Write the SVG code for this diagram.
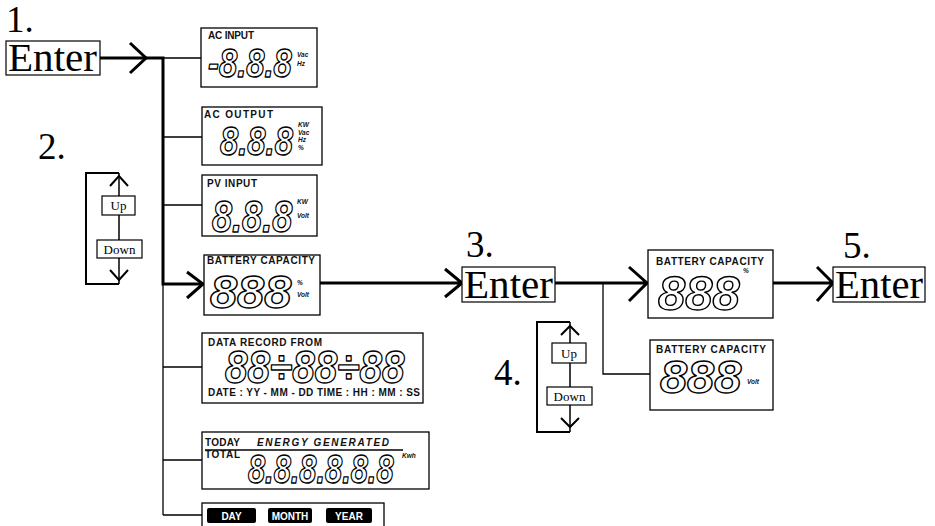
<svg xmlns="http://www.w3.org/2000/svg" width="935" height="526" viewBox="0 0 935 526">
<style>
.bg{fill:#fff}
.lcd{fill:#fff;stroke:#000;stroke-width:1.3}
.box{fill:#fff;stroke:#000;stroke-width:1.2}
.lbl{font-family:"Liberation Sans",Arial,sans-serif;font-weight:bold;font-size:10px;fill:#111}
.lbli{font-family:"Liberation Sans",Arial,sans-serif;font-weight:bold;font-style:italic;font-size:10px;fill:#111}
.unit{font-family:"Liberation Sans",Arial,sans-serif;font-weight:bold;font-style:italic;font-size:6.5px;fill:#111}
.dig{font-family:"Liberation Sans",Arial,sans-serif;font-weight:bold;font-style:italic;fill:#fff;stroke:#000;stroke-width:1.4;stroke-linejoin:round}
.step{font-family:"Liberation Serif","DejaVu Serif","Times New Roman",serif;font-size:37px;fill:#000}
.ent{font-family:"Liberation Serif","DejaVu Serif","Times New Roman",serif;font-size:39px;fill:#000}
.btn{font-family:"Liberation Serif","DejaVu Serif","Times New Roman",serif;font-size:13px;fill:#000}
.pill{fill:#000}
.pt{font-family:"Liberation Sans",Arial,sans-serif;font-weight:bold;font-size:10px;fill:#fff}
.thick{fill:none;stroke:#000;stroke-width:3}
.thin{fill:none;stroke:#000;stroke-width:1.3}
.loop{fill:none;stroke:#000;stroke-width:2}
.mid{fill:none;stroke:#000;stroke-width:1.5}
</style>
<rect class="bg" x="0" y="0" width="935" height="526"/>

<g id="connectors">
  <path class="thick" d="M100,58 H163 M163,56.5 V285.5 M163,284 H203"/>
  <path class="thick" d="M130,43 L146,58 L130,73"/>
  <path class="thick" d="M187,272 L203,284 L187,298"/>
  <path class="thin" d="M163,284 V515 M163,58 H201 M163,137 H202 M163,205 H202 M163,367 H202 M163,460 H202 M163,515 H202"/>
  <path class="thick" d="M320,283 H462 M445,269 L462,283 L445,297"/>
  <path class="thick" d="M555,283 H647 M629,267 L647,283 L629,301"/>
  <path class="thin" d="M603,283 V374 H650"/>
  <path class="thick" d="M773,283 H832 M817,267 L833,283 L817,301"/>
</g>

<g id="step1">
  <text class="step" x="6" y="32">1.</text>
</g>
<g id="enter1">
  <rect class="box" x="6" y="41" width="94" height="34"/>
  <text class="ent" x="8" y="71" textLength="89" lengthAdjust="spacingAndGlyphs">Enter</text>
</g>

<g id="step2">
  <text class="step" x="38" y="159">2.</text>
</g>
<g id="updown1">
  <path class="loop" d="M119,173 H86 V284 H119"/>
  <path class="mid" d="M119,173 V284"/>
  <path class="loop" d="M110,186 L119,176 L128,186 M110,270 L119,280 L128,270"/>
  <rect class="box" x="102" y="196" width="33" height="19"/>
  <text class="btn" x="118.5" y="210" text-anchor="middle">Up</text>
  <rect class="box" x="97" y="240" width="45" height="18"/>
  <text class="btn" x="119.5" y="253.5" text-anchor="middle">Down</text>
</g>

<g id="ac-input">
  <rect class="lcd" x="201" y="28" width="116" height="59"/>
  <text class="lbl" x="208" y="39" textLength="46">AC INPUT</text>
  <text class="dig" transform="translate(208,77) scale(0.82,1)" font-size="40">-8.8.8</text>
  <text class="unit" x="297" y="57">Vac</text>
  <text class="unit" x="297" y="66">Hz</text>
</g>

<g id="ac-output">
  <rect class="lcd" x="202" y="107" width="120" height="58"/>
  <text class="lbl" x="204" y="118" textLength="69">AC OUTPUT</text>
  <text class="dig" transform="translate(220,155) scale(0.82,1)" font-size="40">8.8.8</text>
  <text class="unit" x="298" y="127">KW</text>
  <text class="unit" x="298" y="134.5">Vac</text>
  <text class="unit" x="298" y="142">Hz</text>
  <text class="unit" x="298" y="149.5">%</text>
</g>

<g id="pv-input">
  <rect class="lcd" x="202" y="175" width="115" height="61"/>
  <text class="lbl" x="207" y="187" textLength="50">PV INPUT</text>
  <text class="dig" transform="translate(212,232) scale(0.82,1)" font-size="44">8.8.8</text>
  <text class="unit" x="297" y="204" font-size="7.5">KW</text>
  <text class="unit" x="297" y="218" font-size="7.5">Volt</text>
</g>

<g id="battery-capacity">
  <rect class="lcd" x="204" y="255" width="116" height="60"/>
  <text class="lbl" x="207" y="264" textLength="108">BATTERY  CAPACITY</text>
  <text class="dig" transform="translate(210,308) scale(1.06,1)" font-size="46">888</text>
  <text class="unit" x="297" y="285" font-size="10">%</text>
  <text class="unit" x="297" y="297" font-size="8">Volt</text>
</g>

<g id="data-record">
  <rect class="lcd" x="202" y="333" width="221" height="70"/>
  <text class="lbl" x="208" y="346" textLength="114">DATA RECORD FROM</text>
  <text class="dig" transform="translate(225,383) scale(0.88,1)" font-size="46">88÷88÷88</text>
  <text class="lbl" x="208" y="396" font-size="9.5" textLength="212">DATE : YY - MM - DD TIME : HH : MM : SS</text>
</g>

<g id="energy">
  <rect class="lcd" x="202" y="432" width="227" height="57"/>
  <text class="lbl" x="205" y="446" textLength="35">TODAY</text>
  <text class="lbli" x="257" y="446" textLength="132">ENERGY GENERATED</text>
  <path class="thin" d="M205,450 H403"/>
  <text class="lbl" x="205" y="458" font-size="9" textLength="35">TOTAL</text>
  <text class="dig" transform="translate(248,483) scale(0.77,1)" font-size="40">8.8.8.8.8.8</text>
  <text class="unit" x="402" y="458" font-size="7.5">Kwh</text>
</g>

<g id="period">
  <rect class="lcd" x="202" y="503" width="182" height="30"/>
  <rect class="pill" x="207" y="508" width="49" height="15" rx="2"/>
  <text class="pt" x="231.5" y="519.5" text-anchor="middle">DAY</text>
  <rect class="pill" x="268" y="508" width="44" height="15" rx="2"/>
  <text class="pt" x="290" y="519.5" text-anchor="middle">MONTH</text>
  <rect class="pill" x="326" y="508" width="46" height="15" rx="2"/>
  <text class="pt" x="349" y="519.5" text-anchor="middle">YEAR</text>
</g>

<g id="step3">
  <text class="step" x="466" y="257">3.</text>
</g>
<g id="enter3">
  <rect class="box" x="462" y="267" width="93" height="35"/>
  <text class="ent" x="464" y="297.5" textLength="89" lengthAdjust="spacingAndGlyphs">Enter</text>
</g>

<g id="step4">
  <text class="step" x="494" y="385">4.</text>
</g>
<g id="updown2">
  <path class="loop" d="M570,322 H537 V432 H570"/>
  <path class="mid" d="M570,322 V432"/>
  <path class="loop" d="M561,335 L570,326 L579,335 M561,418 L570,427 L579,418"/>
  <rect class="box" x="552" y="343" width="34" height="20"/>
  <text class="btn" x="569" y="357.5" text-anchor="middle">Up</text>
  <rect class="box" x="547" y="387" width="45" height="18"/>
  <text class="btn" x="569.5" y="400.5" text-anchor="middle">Down</text>
</g>

<g id="battery-percent">
  <rect class="lcd" x="648" y="250" width="125" height="68"/>
  <text class="lbl" x="656" y="265" textLength="108">BATTERY  CAPACITY</text>
  <text class="dig" transform="translate(658,310) scale(1.02,1)" font-size="48">888</text>
  <text class="unit" x="743" y="273" font-size="9">%</text>
</g>

<g id="battery-volt">
  <rect class="lcd" x="650" y="340" width="123" height="70"/>
  <text class="lbl" x="656" y="353" textLength="110">BATTERY  CAPACITY</text>
  <text class="dig" transform="translate(660,393) scale(1.06,1)" font-size="46">888</text>
  <text class="unit" x="747" y="384" font-size="7.5">Volt</text>
</g>

<g id="step5">
  <text class="step" x="843" y="258">5.</text>
</g>
<g id="enter5">
  <rect class="box" x="833" y="267" width="92" height="35"/>
  <text class="ent" x="835" y="297.5" textLength="88" lengthAdjust="spacingAndGlyphs">Enter</text>
</g>
</svg>
